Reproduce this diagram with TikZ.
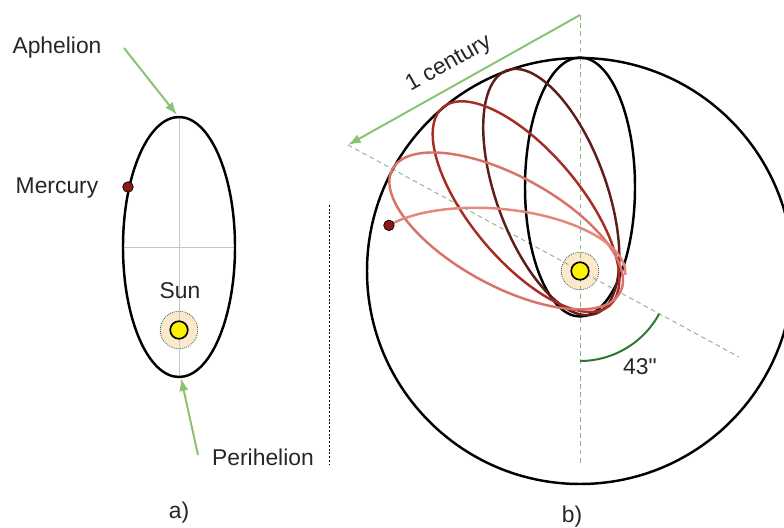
\documentclass[tikz,border=0pt]{standalone}
\usepackage{fontspec}
\newfontfamily\texteschema{Liberation Sans}
\usetikzlibrary{arrows.meta}

\definecolor{vertclair}{RGB}{140,195,115}
\definecolor{vertpointille}{RGB}{140,180,130}
\definecolor{vertfonce}{RGB}{45,120,45}
\definecolor{beigehalo}{RGB}{250,234,202}
\definecolor{mercure}{RGB}{145,25,20}
\definecolor{orbiteB}{RGB}{95,30,25}
\definecolor{orbiteC}{RGB}{165,45,35}
\definecolor{orbiteD}{RGB}{215,115,105}
\definecolor{orbiteE}{RGB}{228,135,125}

\tikzset{
  etiquette/.style={font=\texteschema\fontsize{19.5}{23}\selectfont, text=black!85, inner sep=0pt},
  orbite/.style={line width=2.1pt},
  fleche/.style={vertclair, line width=1.7pt, -{Latex[length=11pt,width=8pt]}},
  aureole/.style={circle, fill=beigehalo, draw=black!70, densely dotted, line width=0.7pt, minimum size=32pt, inner sep=0pt},
  soleil/.style={circle, fill=yellow, draw=black, line width=1.4pt, minimum size=15pt, inner sep=0pt},
  planete/.style={circle, fill=mercure, draw=black, line width=0.6pt, minimum size=9pt, inner sep=0pt},
  axe/.style={vertpointille, line width=0.8pt, dash pattern=on 4pt off 3pt},
}

\begin{document}
\begin{tikzpicture}[x=0.03cm, y=0.03cm]
  \useasboundingbox (0,0) rectangle (784,527);

  % a) Orbite de Mercure
  \coordinate (soleilA) at (179,197);
  \node[aureole] (haloA) at (soleilA) {};
  \draw[gray!45, line width=0.6pt] (179,410) -- (179,150);
  \draw[gray!45, line width=0.6pt] (123,280) -- (235,280);
  \draw[orbite] (179,280) ellipse [x radius=56, y radius=130];
  \node[soleil] (sunA) at (soleilA) {};
  \node[planete] (mercA) at (128,340) {};

  \node[etiquette] (aphelion) at (57,479) {Aphelion};
  \node[etiquette] (mercury) at (57,339) {Mercury};
  \node[etiquette] (sun) at (180,236) {Sun};
  \node[etiquette] (perihelion) at (263,70) {Perihelion};
  \node[etiquette] (a) at (179,14) {a)};

  \coordinate (queueAph) at (124,479);
  \coordinate (aphA) at (177,412);
  \draw[fleche] (queueAph) -- (aphA);
  \coordinate (queuePeri) at (198,72);
  \coordinate (periA) at (181,149);
  \draw[fleche] (queuePeri) -- (periA);

  % Séparation
  \draw[line width=0.8pt, dash pattern=on 1.6pt off 1.6pt] (329,322) -- (329,62);

  % b) Précession du périhélie
  \coordinate (soleilB) at (580,256);
  \coordinate (haut) at (580,512);
  \coordinate (bas) at (580,62);
  \coordinate (pointe) at (348,382);
  \coordinate (finDiag) at (739,170);
  \node[aureole] (haloB) at (soleilB) {};
  \draw[axe] (haut) -- (bas);
  \draw[axe] (pointe) -- (finDiag);
  \draw[orbite] (soleilB) circle (213);

  \foreach \ang/\coul in {0/black, 20/orbiteB, 40/orbiteC, 61.5/orbiteD}
    \draw[orbite, \coul, shift={(soleilB)}, rotate=\ang] (0,84) ellipse [x radius=55, y radius=129.5];
  \draw[orbite, orbiteE, shift={(soleilB)}, rotate=85]
    (0,-45.5) arc [start angle=-90, end angle=58.4, x radius=55, y radius=129.5] coordinate (posMerc);

  \node[soleil] (sunB) at (soleilB) {};
  \node[planete] (mercB) at (posMerc) {};

  \draw[fleche] (haut) -- (pointe);
  \node[etiquette, rotate=29.3] (siecle) at (449,463) {1 century};

  \draw[vertfonce, line width=1.7pt] (580,166) arc [start angle=-90, end angle=-28.5, radius=90];
  \node[etiquette] (angle) at (640,160) {43"};
  \node[etiquette] (b) at (572,10) {b)};
\end{tikzpicture}
\end{document}
